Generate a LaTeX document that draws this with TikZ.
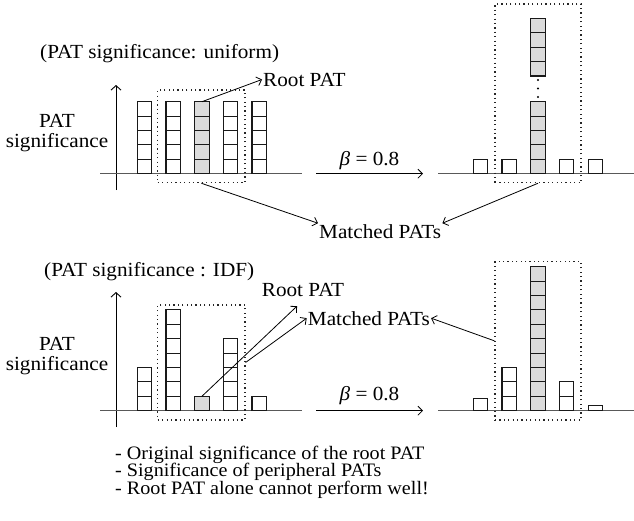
\documentclass[tikz,border=0pt]{standalone}
\usepackage{fontspec}
\setmainfont{Liberation Serif}[FakeStretch=1.06]
\usetikzlibrary{arrows.meta}
\definecolor{cellgrey}{gray}{0.86}
\newcommand\notesfont{\fontsize{19}{17.5}\selectfont\lineskiplimit=-100pt\relax}
\tikzset{
  txt/.style={font=\fontsize{20}{20}\selectfont, inner sep=1pt},
  cellbox/.style={draw=black!90, line width=1.1pt},
  greycell/.style={cellbox, fill=cellgrey},
  baseln/.style={draw=black!65, line width=1.3pt},
  axisln/.style={draw=black, line width=0.9pt, -{Straight Barb[length=4.5pt,width=10pt]}},
  dotbox/.style={draw=black!85, line width=1.1pt, dash pattern=on 1.2pt off 3.2pt, inner sep=0pt},
  pointer/.style={draw=black, line width=0.8pt, -{Straight Barb[length=4.5pt,width=9pt]}},
}
\begin{document}
\begin{tikzpicture}[x=1pt,y=-1pt]
\useasboundingbox (0,0) rectangle (634,520);
\def\cs{14.4}
% ---------------- top panel (uniform) ----------------
\node[txt, anchor=base west] (titleA) at (39,58) {(PAT significance: uniform)};
\node[txt, anchor=base, align=center] (ylabA) at (57,147.3) {PAT\\significance};
\coordinate (axA0) at (116,190);
\coordinate (axA1) at (116,85);
\draw[axisln] (axA0) -- (axA1);
\coordinate (blA0) at (100,173.7); \coordinate (blA1) at (302,173.7);
\draw[baseln] (blA0) -- (blA1);
\foreach \x in {137.3,166,223.3,252}{
  \foreach \k in {1,...,5} \draw[cellbox] (\x,{173.7-\cs*\k}) rectangle ++(\cs,\cs);
}
\foreach \k in {1,...,5} \draw[greycell] (194.7,{173.7-\cs*\k}) rectangle ++(\cs,\cs);
\coordinate (gA) at (201.9,{173.7-5*\cs});
\node[dotbox, minimum width=87.3pt, minimum height=92.7pt] (boxA) at (201.35,136.35) {};
\node[txt, anchor=base west] (rootA) at (262,86) {Root PAT};
\draw[pointer] (gA) -- (rootA.west);
% beta arrow top
\coordinate (baA0) at (316,173.7); \coordinate (baA1) at (423,173.7);
\draw[pointer] (baA0) -- (baA1);
\node[txt, anchor=base] (betaA) at (369.5,165) {{\itshape β} = 0.8};
% right top
\coordinate (blB0) at (438,173.7); \coordinate (blB1) at (634,173.7);
\draw[baseln] (blB0) -- (blB1);
\foreach \x in {473.3,502,559.4,588.1} \draw[cellbox] (\x,{173.7-\cs}) rectangle ++(\cs,\cs);
\foreach \k in {1,...,5} \draw[greycell] (530.7,{173.7-\cs*\k}) rectangle ++(\cs,\cs);
\foreach \k in {1,...,4} \draw[greycell] (530.7,{76-\cs*\k}) rectangle ++(\cs,\cs);
\foreach \y in {80,88.5,97} \fill (537.9,\y) circle (1.1pt);
\node[dotbox, minimum width=86pt, minimum height=178.7pt] (boxB) at (538,93.35) {};
% matched PATs (top)
\node[txt, anchor=base west] (matA) at (318,238.3) {Matched PATs};
\draw[pointer] (boxA.south) -- (matA.north west);
\draw[pointer] (boxB.south) -- (matA.north east);
% ---------------- bottom panel (IDF) ----------------
\node[txt, anchor=base west] (titleC) at (43,276) {(PAT significance : IDF)};
\node[txt, anchor=base, align=center] (ylabC) at (57,370) {PAT\\significance};
\coordinate (axC0) at (116,427);
\coordinate (axC1) at (116,292);
\draw[axisln] (axC0) -- (axC1);
\coordinate (blC0) at (100,410.7); \coordinate (blC1) at (302,410.7);
\draw[baseln] (blC0) -- (blC1);
\foreach \x/\n in {137.3/3,166/7,223.3/5,252/1}{
  \foreach \k in {1,...,\n} \draw[cellbox] (\x,{410.7-\cs*\k}) rectangle ++(\cs,\cs);
}
\draw[greycell] (194.7,{410.7-\cs}) rectangle ++(\cs,\cs);
\coordinate (gC) at (201.9,{410.7-\cs});
\node[dotbox, minimum width=87.3pt, minimum height=115pt] (boxC) at (201.35,362.5) {};
\node[txt, anchor=base west] (rootC) at (260.7,296.7) {Root PAT};
\node[txt, anchor=base west] (matC) at (306.7,325) {Matched PATs};
\draw[pointer] (gC) -- ([xshift=-6pt,yshift=-8pt]rootC.south);
\draw[pointer] (boxC.east) -- (matC.west);
% beta arrow bottom
\coordinate (baC0) at (316,410.7); \coordinate (baC1) at (423,410.7);
\draw[pointer] (baC0) -- (baC1);
\node[txt, anchor=base] (betaC) at (369.5,400) {{\itshape β} = 0.8};
% right bottom
\coordinate (blD0) at (438,410.7); \coordinate (blD1) at (634,410.7);
\draw[baseln] (blD0) -- (blD1);
\draw[cellbox] (473.3,{410.7-12.4}) rectangle ++(\cs,12.4);
\foreach \k in {1,...,3} \draw[cellbox] (502,{410.7-\cs*\k}) rectangle ++(\cs,\cs);
\foreach \k in {1,...,10} \draw[greycell] (530.7,{410.7-\cs*\k}) rectangle ++(\cs,\cs);
\foreach \k in {1,...,2} \draw[cellbox] (559.4,{410.7-\cs*\k}) rectangle ++(\cs,\cs);
\draw[cellbox] (588.1,{410.7-5}) rectangle ++(\cs,5);
\node[dotbox, minimum width=86pt, minimum height=158.3pt] (boxD) at (538,340.85) {};
\draw[pointer] (boxD.west) -- (matC.east);
% ---------------- notes ----------------
\node[anchor=base west, align=left, inner sep=0pt, font=\notesfont] (notes) at (115,494)
  {- Original significance of the root PAT\\
   - Significance of peripheral PATs\\
   - Root PAT alone cannot perform well!};
\end{tikzpicture}
\end{document}
